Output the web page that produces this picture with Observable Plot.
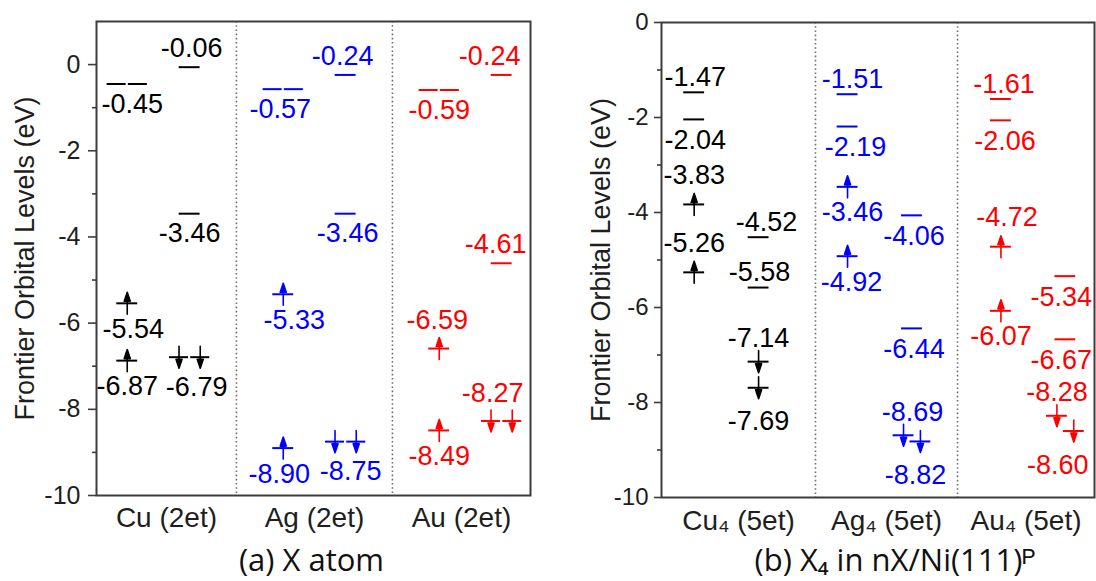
<!DOCTYPE html>
<html><head><meta charset="utf-8">
<script src="https://cdn.jsdelivr.net/npm/d3@7"></script>
<script src="https://cdn.jsdelivr.net/npm/@observablehq/plot@0.6"></script>
<style>
html,body{margin:0;padding:0;background:#fff;}
#wrap{position:relative;width:1096px;height:581px;overflow:hidden;}
.cap{position:absolute;top:544px;height:31px;font-family:"Open Sans",sans-serif;font-size:31px;line-height:31px;color:#111;text-align:center;white-space:nowrap;}
</style></head><body><div id="wrap"></div>
<script>
// ---------------- data ----------------
const catsA = ["Cu (2et)", "Ag (2et)", "Au (2et)"];
const catsB = ["Cu\u2084 (5et)", "Ag\u2084 (5et)", "Au\u2084 (5et)"];
const seriesColors = ["#000000", "#0000ff", "#ff0000"];
const yLabel = "Frontier Orbital Levels (eV)";
const captionA = "(a) X atom";
const captionB = "(b) X\u2084 in nX/Ni(111)\u1D3E";
const yTicksA = [-10, -8, -6, -4, -2, 0];
const yMinorA = [-9, -7, -5, -3, -1];
const yTicksB = [-10, -8, -6, -4, -2, 0];
const yMinorB = [-9, -7, -5, -3, -1];

// panel (a) X atom: category index, spin channel (α left, β right), energy (eV), electron, degeneracy
const catIdxA   = [0, 0, 0, 0, 0, 0, 1, 1, 1, 1, 1, 1, 2, 2, 2, 2, 2, 2];
const channelA  = ["α","α","α","β","β","β", "α","α","α","β","β","β", "α","α","α","β","β","β"];
const energyA   = [-0.45, -5.54, -6.87, -0.06, -3.46, -6.79,
                   -0.57, -5.33, -8.90, -0.24, -3.46, -8.75,
                   -0.59, -6.59, -8.49, -0.24, -4.61, -8.27];
const electronA = ["", "up", "up", "", "", "down", "", "up", "up", "", "", "down", "", "up", "up", "", "", "down"];
const degenA    = [2, 1, 1, 1, 1, 2, 2, 1, 1, 1, 1, 2, 2, 1, 1, 1, 1, 2];

// panel (b) X4 in nX/Ni(111)^P
const catIdxB   = [0, 0, 0, 0, 0, 0, 0, 0, 1, 1, 1, 1, 1, 1, 1, 1, 2, 2, 2, 2, 2, 2, 2, 2];
const channelB  = ["α","α","α","α","β","β","β","β", "α","α","α","α","β","β","β","β", "α","α","α","α","β","β","β","β"];
const energyB   = [-1.47, -2.04, -3.83, -5.26, -4.52, -5.58, -7.14, -7.69,
                   -1.51, -2.19, -3.46, -4.92, -4.06, -6.44, -8.69, -8.82,
                   -1.61, -2.06, -4.72, -6.07, -5.34, -6.67, -8.28, -8.60];
const electronB = ["", "", "up", "up", "", "", "down", "down",
                   "", "", "up", "up", "", "", "down", "down",
                   "", "", "up", "up", "", "", "down", "down"];
const degenB    = new Array(24).fill(1);

// ---------------- label layout (which side, small horizontal nudge in px) ----------------
const labelSideA = ["below","below","below","above","below","below",
                    "below","below","below","above","below","below",
                    "below","above","below","above","above","above"];
const labelNudgeA = [5, 6, 0, 2, 0, 7, -3, 11, -4, -3, 2, 5, 0, -2, 0, -12, -6, -9];
const labelSideB = ["above","below","above","above","above","above","above","below",
                    "above","below","below","below","below","below","above","below",
                    "above","below","above","below","below","below","above","below"];
const labelNudgeB = [1, 1, 0, 0, 8, 1, 0, 0, 5, 8, 5, 4, 2, 2, 9, -5, 3, 4, 6, 0, -4, -4, 0, -16];

// ---------------- drawing ----------------
const arrowShape = {
  draw(ctx, l) {
    const h = 9, w = 3;
    ctx.moveTo(0, 0);
    ctx.lineTo(0, -l + h * 0.6);
    ctx.moveTo(0, -l);
    ctx.lineTo(-w, -l + h);
    ctx.lineTo(w, -l + h);
    ctx.closePath();
  }
};

function buildPanel(p) {
  const W = 548, H = 540;
  const [x0, x1] = p.xDomain, [y0, y1] = p.yDomain;
  const pxX = (W - p.mL - p.mR) / (x1 - x0);
  const pxY = (H - p.mT - p.mB) / (y1 - y0);
  const levels = p.e.map((e, i) => ({
    i, ci: p.cat[i], cat: p.cats[p.cat[i]], ch: p.ch[i], e, el: p.el[i], deg: p.deg[i]
  }));
  levels.forEach(d => { d.x = d.ci + 1 + (d.ch === "α" ? -p.chOff : p.chOff); });
  if (p.stagger) {
    levels.forEach(d => {
      const mate = levels.find(o => o !== d && o.ci === d.ci && o.ch === d.ch && o.el && d.el && Math.abs(o.e - d.e) < 0.4);
      if (mate) d.x += (d.e > mate.e ? -1 : 1) * p.stagger;
    });
  }
  const segs = levels.flatMap(d => (d.deg === 2 ? [-p.pairOff, p.pairOff] : [0])
    .map(o => ({...d, sx: d.x + o, hw: d.deg === 2 ? p.pairHW : p.hw})));
  const arrows = segs.filter(d => d.el);
  const labels = levels.map(d => {
    const kind = d.el || "bar";
    const off = p.labelOff[kind][p.side[d.i] === "above" ? 0 : 1];
    return {...d, lx: d.x + p.nudge[d.i] / pxX, ly: d.e - off / pxY, text: d.e.toFixed(2)};
  });
  const bounds = [x0, ...p.seps, x1];
  const centers = bounds.slice(0, -1).map((b, k) => (b + bounds[k + 1]) / 2);

  return Plot.plot({
    width: W, height: H,
    marginLeft: p.mL, marginRight: p.mR, marginTop: p.mT, marginBottom: p.mB,
    x: {domain: p.xDomain},
    y: {domain: p.yDomain},
    color: {domain: p.cats, range: seriesColors},
    style: {fontFamily: "'Liberation Sans', Arial, sans-serif", color: "#1e1e1e", background: "transparent", overflow: "visible"},
    marks: [
      Plot.ruleX(p.seps, {stroke: "#6e6e6e", strokeWidth: 1.6, strokeDasharray: "1.6,2.6"}),
      Plot.frame({stroke: "#3c3c3c", strokeWidth: 2}),
      Plot.axisY(p.yTicks, {tickSize: p.tickSize, tickPadding: p.tickPad, fontSize: p.tickFont,
        tickFormat: d => String(d), label: null, stroke: "#3c3c3c", strokeWidth: 1.6}),
      Plot.axisY(p.yMinor, {tickSize: 4, tickFormat: () => "", label: null, stroke: "#3c3c3c", strokeWidth: 1.6}),
      Plot.axisX(centers, {tickSize: 0, tickPadding: p.catPad, fontSize: 28,
        tickFormat: d => p.cats[centers.indexOf(d)], label: null}),
      Plot.text([yLabel], {frameAnchor: "left", textAnchor: "middle", dx: p.yLabelDx, rotate: -90, fontSize: 27, text: d => d, fill: "#1e1e1e"}),
      Plot.ruleY(segs, {y: "e", x1: d => d.sx - d.hw, x2: d => d.sx + d.hw, stroke: "cat", strokeWidth: 2}),
      Plot.vector(arrows, {x: "sx", y: "e", length: 22, rotate: d => d.el === "up" ? 0 : 180, anchor: "middle",
        shape: arrowShape, stroke: "cat", fill: "cat", strokeWidth: 1.6}),
      Plot.text(labels, {x: "lx", y: "ly", text: "text", fill: "cat", fontSize: 27})
    ]
  });
}

const panelA = {
  cats: catsA, cat: catIdxA, ch: channelA, e: energyA, el: electronA, deg: degenA,
  side: labelSideA, nudge: labelNudgeA,
  xDomain: [0.603, 3.385], seps: [1.5, 2.5], yDomain: [-10, 1],
  yTicks: yTicksA, yMinor: yMinorA,
  mL: 96, mR: 18, mT: 21, mB: 45,
  tickSize: 8, tickPad: 8, tickFont: 25, yLabelDx: -71.5, catPad: 12,
  chOff: 0.2, pairOff: 0.068, pairHW: 0.061, hw: 0.067, stagger: 0,
  labelOff: {bar: [-19, 20], up: [-28, 26], down: [-28, 30]}
};
const panelB = {
  cats: catsB, cat: catIdxB, ch: channelB, e: energyB, el: electronB, deg: degenB,
  side: labelSideB, nudge: labelNudgeB,
  xDomain: [0.577, 3.4], seps: [1.581, 2.507], yDomain: [-10, 0],
  yTicks: yTicksB, yMinor: yMinorB,
  mL: 113, mR: 2, mT: 22, mB: 43,
  tickSize: 7, tickPad: 6, tickFont: 24, yLabelDx: -60, catPad: 13,
  chOff: 0.21, pairOff: 0.068, pairHW: 0.061, hw: 0.068, stagger: 0.055,
  labelOff: {bar: [-15, 21], up: [-29, 26], down: [-23, 34]}
};

const wrap = document.getElementById("wrap");
const svgA = buildPanel(panelA);
svgA.style.position = "absolute"; svgA.style.left = "0px"; svgA.style.top = "0px";
wrap.appendChild(svgA);
const svgB = buildPanel(panelB);
svgB.style.position = "absolute"; svgB.style.left = "548px"; svgB.style.top = "0px";
wrap.appendChild(svgB);

const capA = document.createElement("div");
capA.className = "cap"; capA.style.left = "0px"; capA.style.width = "623px";
capA.textContent = captionA;
wrap.appendChild(capA);
const capB = document.createElement("div");
capB.className = "cap"; capB.style.left = "694px"; capB.style.width = "402px";
capB.textContent = captionB;
wrap.appendChild(capB);
</script>
</body></html>
